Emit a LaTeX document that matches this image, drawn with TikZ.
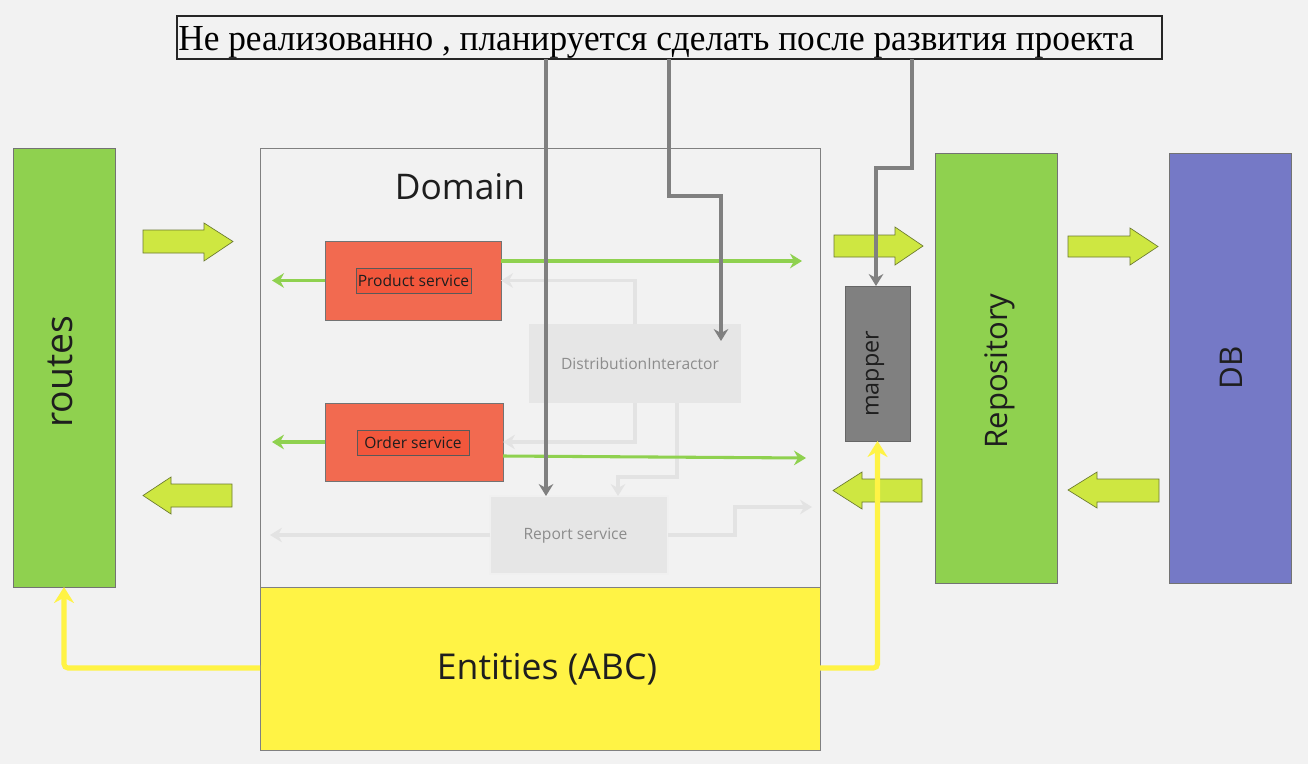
\documentclass[tikz,border=0pt]{standalone}
\usepackage{fontspec}
\setmainfont{Open Sans}
\newfontfamily\serifru{Liberation Serif}
\usetikzlibrary{arrows.meta}
\definecolor{bg}{HTML}{F2F2F2}
\definecolor{grn}{HTML}{8FD14F}
\definecolor{fatfill}{HTML}{CEE741}
\definecolor{fatdraw}{HTML}{6B7A30}
\definecolor{tomato}{HTML}{F26A50}
\definecolor{tomin}{HTML}{F2573C}
\definecolor{ltgray}{HTML}{E6E6E6}
\definecolor{arrgray}{HTML}{E3E3E3}
\definecolor{dgray}{HTML}{808080}
\definecolor{ylw}{HTML}{FFF345}
\definecolor{dbblue}{HTML}{7579C6}
\definecolor{txt}{HTML}{1E1E1E}
\tikzset{
  sz/.style 2 args={minimum width=#1*0.75pt, minimum height=#2*0.75pt, inner sep=0pt, outer sep=0pt},
  bigbox/.style={draw=black!55, line width=0.5pt},
  svc/.style={fill=tomato, draw=black!55, line width=0.5pt},
  svclbl/.style={fill=tomin, draw=black!65, line width=0.5pt, text=txt, font=\fontsize{11.7}{13}\selectfont},
  ghost/.style={fill=ltgray},
  ghosttxt/.style={text=black!45, font=\fontsize{11.7}{13}\selectfont, inner sep=0pt},
  fat/.style={fill=fatfill, draw=fatdraw, line width=0.5pt, line join=miter},
  garr/.style={draw=grn, line width=2.3pt, -{Stealth[length=9pt,width=11pt,inset=3pt]}},
  lgarr/.style={draw=arrgray, line width=2.3pt, -{Stealth[length=9pt,width=11pt,inset=3pt]}},
  darr/.style={draw=dgray, line width=2.3pt, -{Stealth[length=9pt,width=11pt,inset=3pt]}},
  yarr/.style={draw=ylw, line width=3.8pt, rounded corners=3pt, -{Stealth[length=12pt,width=15pt,inset=4pt]}},
  vlbl/.style={rotate=90, text=txt, inner sep=0pt}
}
\begin{document}
\begin{tikzpicture}[x=0.75pt,y=-0.75pt]
\fill[bg] (0,0) rectangle (1308,764);
\useasboundingbox (0,0) rectangle (1308,764);

% top note
\node[sz={985}{43}, draw=black!85, line width=1.1pt, fill=bg] (top) at (669.5,37.5) {};
\node[anchor=base west, inner sep=0pt] (toptext) at (178,50)
  {\resizebox{717pt}{\height}{\serifru\fontsize{27.5}{30}\selectfont Не реализованно , планируется сделать после развития проекта}};

% big boxes
\node[sz={102}{439}, fill=grn, bigbox] (routes) at (64,367.5) {};
\node[vlbl, font=\fontsize{28}{32}\selectfont] (routeslbl) at (60,372) {routes};
\node[sz={560}{439}, fill=bg, draw=dgray, line width=0.6pt] (domain) at (540,367.5) {};
\node[font=\fontsize{26.5}{30}\selectfont, text=txt] (domtitle) at (460,187) {Domain};
\node[sz={560}{163}, fill=ylw, draw=dgray, line width=0.6pt] (ent) at (540,668.5) {};
\node[font=\fontsize{26.7}{30}\selectfont, text=txt] (entlbl) at (547,669) {Entities (ABC)};
\node[sz={65}{155}, fill=dgray, draw=black!60, line width=0.5pt] (mapper) at (877.5,363.5) {};
\node[vlbl, font=\fontsize{17.5}{20}\selectfont] (mapperlbl) at (875,374) {mapper};
\node[sz={122}{430}, fill=grn, bigbox] (repo) at (996,368) {};
\node[vlbl, font=\fontsize{23.3}{26}\selectfont] (repolbl) at (1000,371) {Repository};
\node[sz={122}{430}, fill=dbblue, bigbox] (db) at (1230,368) {};
\node[vlbl, font=\fontsize{23.5}{26}\selectfont] (dblbl) at (1231,368) {DB};

% inner services
\node[sz={212}{79}, ghost] (di) at (635,363.5) {};
\node[ghosttxt] (dilbl) at (640,364) {DistributionInteractor};
\node[sz={178}{78}, ghost, draw=black!6, line width=1pt] (report) at (579,535) {};
\node[ghosttxt] (reportlbl) at (575.5,535.5) {Report service};
\node[sz={176}{79}, svc] (product) at (413,280.5) {};
\node[sz={115}{25}, svclbl] (productlbl) at (413.5,280.5) {Product service};
\node[sz={178}{78}, svc] (order) at (414,442) {};
\node[sz={112}{25}, svclbl] (orderlbl) at (413,442.5) {Order service};

% fat arrows
\path[fat] (143,230) -- (204,230) -- (204,223) -- (233,241.5) -- (204,261) -- (204,253) -- (143,253) -- cycle;
\path[fat] (232,484) -- (171,484) -- (171,477) -- (143,495.5) -- (171,514) -- (171,507) -- (232,507) -- cycle;
\path[fat] (834,235) -- (895,235) -- (895,227) -- (923,246) -- (895,265) -- (895,257) -- (834,257) -- cycle;
\path[fat] (922,479) -- (862,479) -- (862,472) -- (833,490.5) -- (862,509) -- (862,502) -- (922,502) -- cycle;
\path[fat] (1068,236) -- (1130,236) -- (1130,228) -- (1158,246.5) -- (1130,265) -- (1130,257) -- (1068,257) -- cycle;
\path[fat] (1159,479) -- (1097,479) -- (1097,472) -- (1068,490) -- (1097,508) -- (1097,502) -- (1159,502) -- cycle;

% free ends
\coordinate (pR) at (802,261);
\coordinate (pL) at (272,280.5);
\coordinate (oL) at (272,442);
\coordinate (oR) at (806,458);
\coordinate (rL) at (270,535);
\coordinate (rR) at (812,507);

% light gray connectors
\draw[lgarr] (di.north) |- (product.east);
\draw[lgarr] (di.south) |- (order.east);
\draw[lgarr] (di.south -| 677,0) |- (618,477) -- (report.north -| 618,0);
\draw[lgarr] (report.west) -- (rL);
\draw[lgarr] (report.east) -- (735,535) |- (rR);

% green connectors
\draw[garr] (product.east |- pR) -- (pR);
\draw[garr] (product.west) -- (pL);
\draw[garr] (order.west) -- (oL);
\draw[garr] (order.east |- 0,456) -- (oR);

% dark gray connectors
\draw[darr] (top.south -| 546,0) -- (report.north -| 546,0);
\draw[darr] (top.south -| 669,0) |- (721,196) -- (721,341);
\draw[darr] (top.south -| 912,0) |- (876,168) -- (mapper.north -| 876,0);

% yellow connectors
\draw[yarr] (ent.west |- 0,668) -| (routes.south);
\draw[yarr] (ent.east |- 0,668) -| (mapper.south);
\end{tikzpicture}
\end{document}
